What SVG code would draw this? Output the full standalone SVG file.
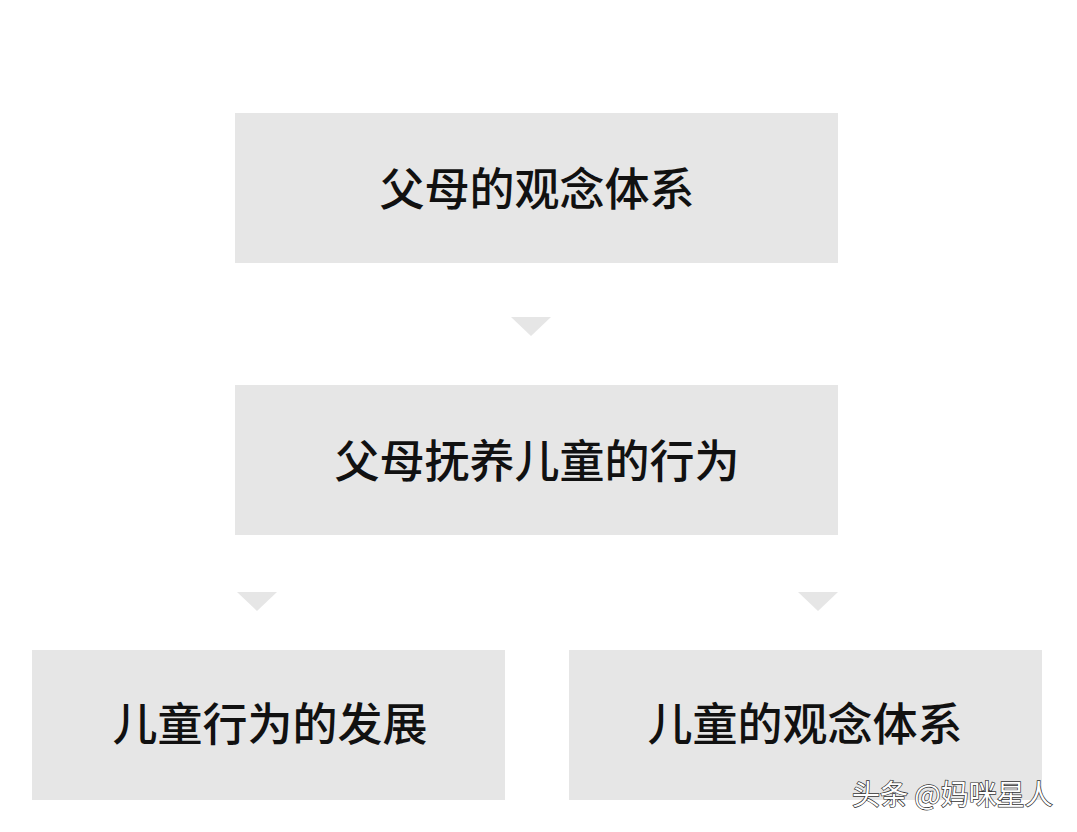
<svg xmlns="http://www.w3.org/2000/svg" width="1077" height="832" viewBox="0 0 1077 832">
<style>
.box{fill:#e6e6e6}
.lbl{font-family:"Noto Sans CJK SC","Noto Sans",sans-serif;font-size:45px;font-weight:500;fill:#111;text-anchor:middle;dominant-baseline:central}
.tri{fill:#e6e6e6}
.wm{font-family:"Noto Sans CJK SC","Noto Sans",sans-serif;font-size:28px;fill:#fff;stroke:#333;stroke-width:1.4px;paint-order:stroke}
</style>
<rect width="1077" height="832" fill="#fff"/>
<g id="node-parent-beliefs">
<rect class="box" x="235" y="113" width="603" height="150"/>
<text class="lbl" x="537" y="186">父母的观念体系</text>
</g>
<g id="node-parent-behavior">
<rect class="box" x="235" y="385" width="603" height="150"/>
<text class="lbl" x="537" y="458">父母抚养儿童的行为</text>
</g>
<g id="node-child-behavior">
<rect class="box" x="32" y="650" width="473" height="150"/>
<text class="lbl" x="270" y="721">儿童行为的发展</text>
</g>
<g id="node-child-beliefs">
<rect class="box" x="569" y="650" width="473" height="150"/>
<text class="lbl" x="805" y="721">儿童的观念体系</text>
</g>
<g id="connectors">
<polygon class="tri" points="511,317 551,317 531,336"/>
<polygon class="tri" points="237,592 277,592 257,611"/>
<polygon class="tri" points="798,592 838,592 818,611"/>
</g>
<text class="wm" x="852" y="805">头条 @妈咪星人</text>
</svg>
